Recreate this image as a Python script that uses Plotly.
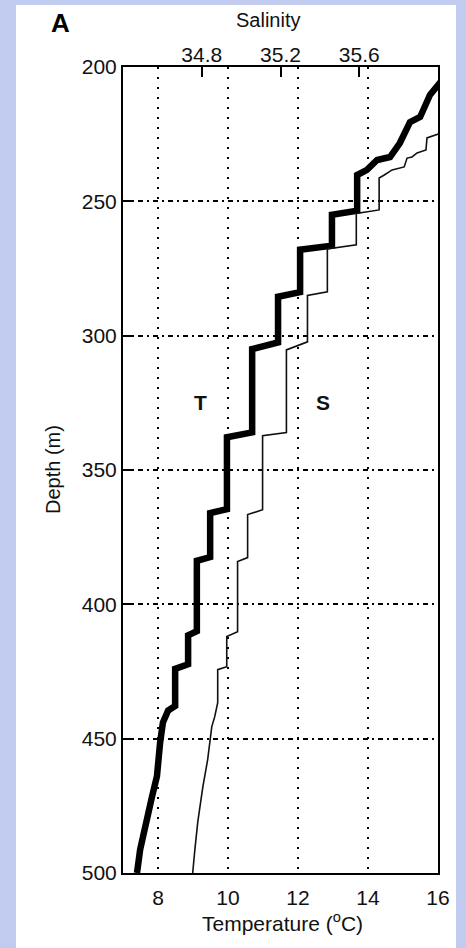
import plotly.graph_objects as go

# ---- data ----
t_depth = [205.5, 210.4, 218.6, 220.5, 228.3, 233.5, 234.6, 238.3, 240.2, 253.5, 255.0,
           266.5, 268.0, 283.8, 285.5, 302.5, 305.0, 336.0, 337.8, 364.6, 366.0, 382.4,
           383.8, 410.0, 411.5, 422.3, 424.0, 437.8, 439.5, 444.0, 451.5, 464.0, 471.5,
           482.7, 491.3, 500.0]
t_temp = [16.08, 15.77, 15.49, 15.20, 14.91, 14.63, 14.26, 13.97, 13.69, 13.69, 12.97,
          12.97, 12.06, 12.06, 11.43, 11.43, 10.69, 10.69, 9.97, 9.97, 9.49, 9.49,
          9.11, 9.11, 8.86, 8.86, 8.49, 8.49, 8.29, 8.14, 8.06, 7.97, 7.83,
          7.63, 7.49, 7.40]

s_depth = [224.5, 226.4, 230.9, 232.0, 233.5, 233.9, 237.2, 238.3, 240.2, 241.3, 253.2,
           254.5, 266.2, 267.7, 283.7, 285.0, 302.3, 305.3, 336.1, 337.2, 364.8, 366.6,
           382.6, 384.1, 410.2, 412.0, 423.2, 424.3, 436.6, 441.8, 445.5, 457.8, 468.2,
           480.9, 491.3, 500.0]
s_sal = [36.02, 35.944, 35.939, 35.894, 35.868, 35.843, 35.828, 35.767, 35.727, 35.701, 35.701,
         35.585, 35.585, 35.438, 35.438, 35.337, 35.337, 35.230, 35.230, 35.109, 35.109, 35.033,
         35.033, 34.982, 34.982, 34.927, 34.927, 34.881, 34.881, 34.866, 34.851, 34.830, 34.805,
         34.780, 34.765, 34.754]

temp_ticks = [8, 10, 12, 14, 16]
sal_ticks = [34.8, 35.2, 35.6]
depth_ticks = [200, 250, 300, 350, 400, 450, 500]

FONT = "Liberation Sans, Arial, sans-serif"

fig = go.Figure()
fig.add_trace(go.Scatter(x=t_temp, y=t_depth, mode="lines", xaxis="x", yaxis="y",
                         line=dict(color="black", width=6.5), hoverinfo="skip"))
fig.add_trace(go.Scatter(x=s_sal, y=s_depth, mode="lines", xaxis="x2", yaxis="y",
                         line=dict(color="#111111", width=1.6), hoverinfo="skip"))

W, H = 466, 948
L, R, T, B = 123, 28, 67, 75
pw, ph = W - L - R, H - T - B

def px(xp):
    return (xp - L) / pw

def py(yp):
    return (H - B - yp) / ph

fig.update_layout(
    width=W, height=H,
    margin=dict(l=L, r=R, t=T, b=B, pad=0),
    paper_bgcolor="#c1caef",
    plot_bgcolor="white",
    showlegend=False,
    font=dict(family=FONT, color="#111111", size=21),
    xaxis=dict(range=[7, 16], tickvals=temp_ticks, ticks="", showgrid=True,
               gridcolor="black", gridwidth=2, griddash="2px,8px",
               showline=True, linecolor="black", linewidth=2, mirror=True,
               zeroline=False, tickfont=dict(size=21, family=FONT),
               ticklabelstandoff=5),
    xaxis2=dict(range=[34.4, 36.0], tickvals=sal_ticks, overlaying="x", side="top",
                ticks="inside", ticklen=10, tickwidth=2, tickcolor="black",
                showgrid=False, showline=False, zeroline=False,
                tickfont=dict(size=21, family=FONT)),
    yaxis=dict(range=[500, 200], tickvals=depth_ticks, ticks="inside", ticklen=10,
               tickwidth=2, tickcolor="black", showgrid=True, gridcolor="black",
               gridwidth=2, griddash="5px,4px,2px,4px",
               showline=True, linecolor="black", linewidth=2, mirror=True,
               zeroline=False, tickfont=dict(size=21, family=FONT)),
    shapes=[dict(type="rect", xref="paper", yref="paper",
                 x0=px(16), x1=px(456), y0=py(960), y1=py(5),
                 fillcolor="white", line=dict(width=0), layer="below")],
    annotations=[
        dict(text="<b>A</b>", x=px(60), y=py(23), xref="paper", yref="paper",
             showarrow=False, xanchor="center", yanchor="middle",
             font=dict(size=26, family=FONT, color="black")),
        dict(text="Salinity", x=px(268), y=py(20), xref="paper", yref="paper",
             showarrow=False, xanchor="center", yanchor="middle",
             font=dict(size=20, family=FONT)),
        dict(text="Temperature (<sup>o</sup>C)", x=px(282), y=py(922), xref="paper",
             yref="paper", showarrow=False, xanchor="center", yanchor="middle",
             font=dict(size=21, family=FONT)),
        dict(text="Depth (m)", x=px(53), y=py(470), xref="paper", yref="paper",
             showarrow=False, xanchor="center", yanchor="middle", textangle=-90,
             font=dict(size=20, family=FONT)),
        dict(text="<b>T</b>", x=9.2, y=325, xref="x", yref="y", showarrow=False,
             xanchor="center", yanchor="middle", font=dict(size=21, family=FONT)),
        dict(text="<b>S</b>", x=12.71, y=325, xref="x", yref="y", showarrow=False,
             xanchor="center", yanchor="middle", font=dict(size=21, family=FONT)),
    ],
)

fig.write_html("out.html")
